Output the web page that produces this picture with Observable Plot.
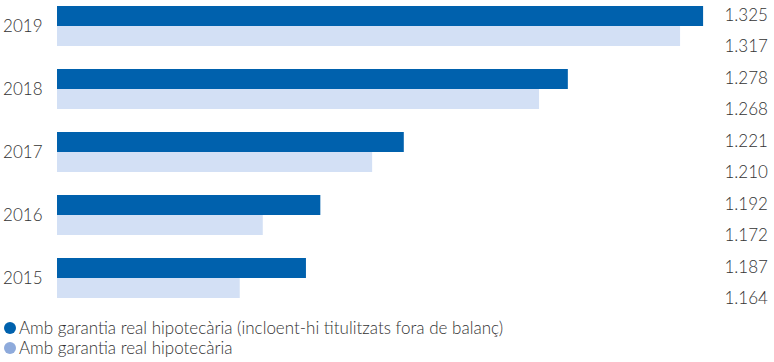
<!DOCTYPE html>
<html>
<head>
<meta charset="utf-8">
<script src="https://cdn.jsdelivr.net/npm/d3@7"></script>
<script src="https://cdn.jsdelivr.net/npm/@observablehq/plot@0.6"></script>
<style>
  body { margin: 0; background: #fff; font-family: Lato, "Noto Sans", sans-serif; }
  #legend { padding-top: 6px; font-size: 17px; color: #333; font-weight: 300; }
  .item { height: 20px; line-height: 20px; display: flex; align-items: center; padding-left: 4px; }
  .dot { width: 12px; height: 12px; border-radius: 50%; display: inline-block; margin-right: 3px; }
</style>
</head>
<body>
<div id="chart"></div>
<div id="legend"></div>
<script>
const years = ["2019", "2018", "2017", "2016", "2015"];
const seriesNames = [
  "Amb garantia real hipotecària (incloent-hi titulitzats fora de balanç)",
  "Amb garantia real hipotecària"
];
const withSecuritized = [1325, 1278, 1221, 1192, 1187];
const mortgageOnly = [1317, 1268, 1210, 1172, 1164];
const barColors = ["#0061ad", "#d3e0f5"];
const legendColors = ["#0061ad", "#8eaadb"];

const rows = [];
years.forEach((y, i) => {
  rows.push({year: y, series: seriesNames[0], value: withSecuritized[i]});
  rows.push({year: y, series: seriesNames[1], value: mortgageOnly[i]});
});

const fmt = v => d3.format(",")(v).replace(/,/g, ".");

const chart = Plot.plot({
  width: 774,
  height: 312,
  marginLeft: 57,
  marginRight: 64,
  marginTop: 5,
  marginBottom: 13,
  style: {fontFamily: "Lato, 'Noto Sans', sans-serif", color: "#333"},
  x: {domain: [1100.5, 1327.4], axis: null},
  y: {domain: seriesNames, axis: null, padding: 0},
  fy: {domain: years, paddingInner: 0.37, paddingOuter: 0, axis: null, label: null},
  color: {domain: seriesNames, range: barColors},
  marks: [
    Plot.barX(rows, {x1: 1100.5, x2: "value", y: "series", fy: "year", fill: "series"}),
    Plot.axisFy({anchor: "left", tickSize: 0, tickPadding: 15, label: null, fontSize: 17, fontWeight: 300, fill: "#333"}),
    Plot.text(rows.filter(d => d.series === seriesNames[0]), {
      fy: "year", y: "series", frameAnchor: "right", dx: 14, dy: -1,
      text: d => fmt(d.value), textAnchor: "start", fontSize: 17, fontWeight: 300, fill: "#333"
    }),
    Plot.text(rows.filter(d => d.series === seriesNames[1]), {
      fy: "year", y: "series", frameAnchor: "right", dx: 14, dy: 10,
      text: d => fmt(d.value), textAnchor: "start", fontSize: 17, fontWeight: 300, fill: "#333"
    })
  ]
});
document.getElementById("chart").appendChild(chart);

const legend = document.getElementById("legend");
seriesNames.forEach((name, i) => {
  const item = document.createElement("div");
  item.className = "item";
  const dot = document.createElement("span");
  dot.className = "dot";
  dot.style.background = legendColors[i];
  item.appendChild(dot);
  item.appendChild(document.createTextNode(name));
  legend.appendChild(item);
});
</script>
</body>
</html>
